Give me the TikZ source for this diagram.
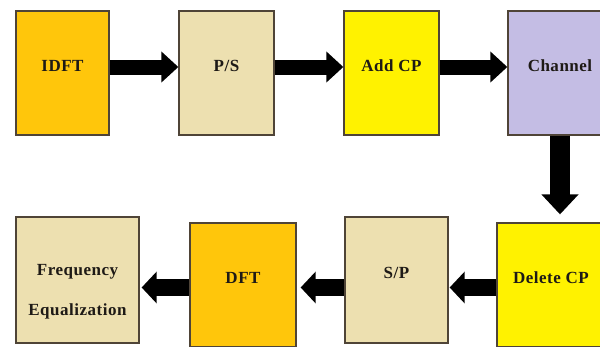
\documentclass[tikz,border=0pt]{standalone}
\usepackage{fontspec}
\setmainfont{Liberation Serif}
\usetikzlibrary{arrows.meta}
\definecolor{cOrange}{HTML}{FFC60B}
\definecolor{cBeige}{HTML}{EDE0B0}
\definecolor{cYellow}{HTML}{FFF200}
\definecolor{cLav}{HTML}{C4BDE4}
\definecolor{cBorder}{HTML}{4F4437}
\definecolor{cText}{HTML}{1E1A16}
\tikzset{
  blk/.style={draw=cBorder, line width=1.3pt, inner sep=0pt, font=\fontsize{17}{20}\selectfont\bfseries\addfontfeatures{LetterSpace=3}, text=cText},
  toparrow/.style={draw=black, line width=15pt, -{Triangle[length=17pt, width=30pt]}},
  downarrow/.style={draw=black, line width=20pt, -{Triangle[length=20pt, width=36pt]}},
  botarrow/.style={draw=black, line width=17pt, -{Triangle[length=15pt, width=31pt]}},
}
\newcommand{\lbl}[1]{\raisebox{2pt}[0pt][0pt]{#1}}
\begin{document}
\begin{tikzpicture}[x=1pt,y=-1pt]
\useasboundingbox (0,0) rectangle (600,346);
\fill[white] (0,0) rectangle (600,346);
% top row
\node[blk, fill=cOrange, minimum width=93pt, minimum height=124pt] (idft) at (62.5,73) {\lbl{IDFT}};
\node[blk, fill=cBeige, minimum width=95pt, minimum height=124pt] (ps) at (226.5,73) {\lbl{P/S}};
\node[blk, fill=cYellow, minimum width=95pt, minimum height=124pt] (addcp) at (391.5,73) {\lbl{Add CP}};
\node[blk, fill=cLav, minimum width=104pt, minimum height=124pt] (chan) at (560,73) {\lbl{Channel}};
% bottom row
\node[blk, fill=cBeige, minimum width=123pt, minimum height=126pt] (fe) at (77.5,280) {\raisebox{-35pt}[0pt][0pt]{\shortstack{Frequency\\[21pt]Equalization}}};
\node[blk, fill=cOrange, minimum width=106pt, minimum height=124pt] (dft) at (243,285) {\lbl{DFT}};
\node[blk, fill=cBeige, minimum width=103pt, minimum height=126pt] (sp) at (396.5,280) {\lbl{S/P}};
\node[blk, fill=cYellow, minimum width=108pt, minimum height=124pt] (dcp) at (551,285) {\lbl{Delete CP}};
% rows for arrows
\coordinate (rowA) at (0,67);
\coordinate (rowB) at (0,287.5);
% connectors
\draw[toparrow] (idft.east |- rowA) -- (ps.west |- rowA);
\draw[toparrow] (ps.east |- rowA) -- (addcp.west |- rowA);
\draw[toparrow] (addcp.east |- rowA) -- (chan.west |- rowA);
\draw[downarrow, shorten >=8pt] (chan.south) -- (chan.south |- dcp.north);
\draw[botarrow, shorten >=1pt] (dcp.west |- rowB) -- (sp.east |- rowB);
\draw[botarrow, shorten >=4pt] (sp.west |- rowB) -- (dft.east |- rowB);
\draw[botarrow, shorten >=2pt] (dft.west |- rowB) -- (fe.east |- rowB);
\end{tikzpicture}
\end{document}
